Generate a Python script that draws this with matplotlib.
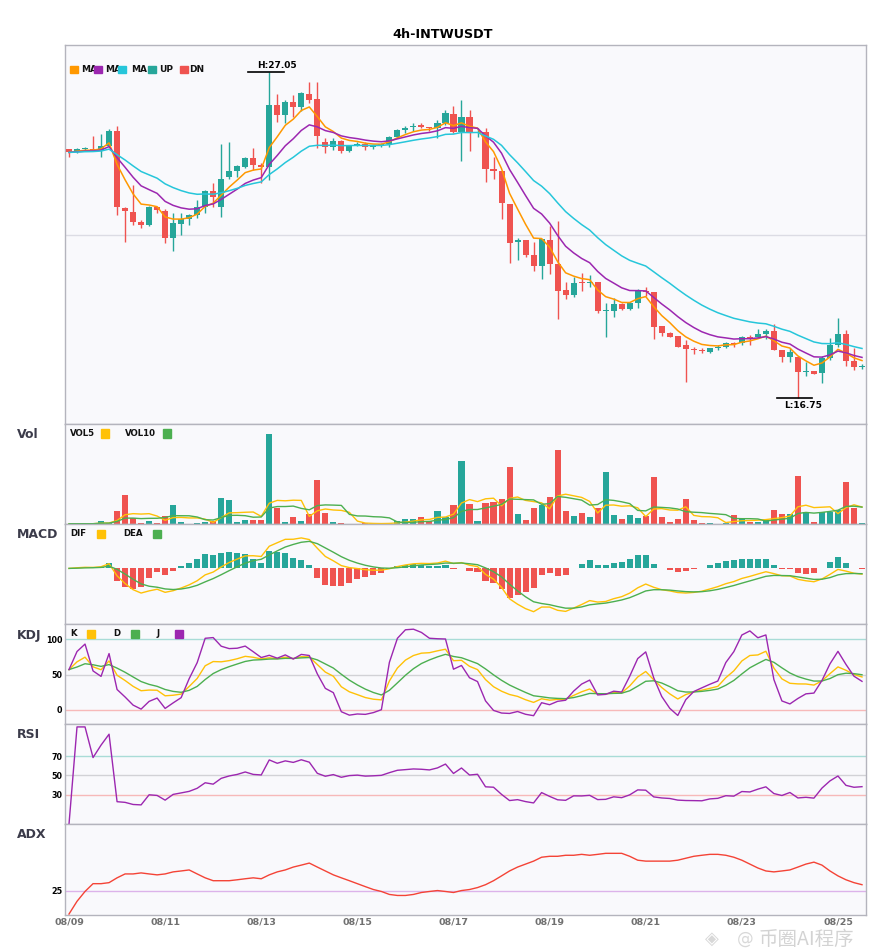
import numpy as np
import pandas as pd
import matplotlib
matplotlib.use("Agg")
import matplotlib.pyplot as plt
from matplotlib.patches import Rectangle

# ---------------- data (4h candles, 08/09 - 08/25) ----------------
opens = [24.60, 24.54, 24.60, 24.60, 24.58, 24.70, 25.18, 22.74, 22.62, 22.29,
         22.22, 22.77, 22.65, 21.81, 22.25, 22.39, 22.52, 22.79, 23.28, 22.79,
         23.71, 23.92, 24.05, 24.31, 24.10, 24.05, 26.00, 25.68, 26.08, 25.94,
         26.34, 26.18, 24.84, 24.66, 24.87, 24.54, 24.73, 24.78, 24.66, 24.71,
         24.75, 24.99, 25.21, 25.29, 25.35, 25.31, 25.26, 25.42, 25.71, 25.16,
         25.61, 25.10, 25.14, 23.96, 23.92, 22.87, 21.68, 21.73, 21.26, 20.92,
         21.73, 20.97, 20.15, 19.99, 20.41, 20.36, 20.41, 19.49, 19.50, 19.71,
         19.55, 19.75, 20.12, 20.08, 19.01, 18.80, 18.70, 18.42, 18.28, 18.26,
         18.20, 18.31, 18.36, 18.47, 18.49, 18.66, 18.66, 18.75, 18.86, 18.26,
         18.05, 18.05, 17.57, 17.59, 17.52, 17.99, 18.42, 18.76, 17.92, 17.71]
highs = [24.62, 24.64, 24.67, 25.02, 25.08, 25.23, 25.33, 22.76, 23.47, 22.37,
         22.81, 22.79, 22.70, 22.60, 22.60, 22.56, 23.00, 23.31, 23.52, 24.77,
         24.84, 24.10, 24.37, 24.63, 24.15, 27.05, 26.33, 26.16, 26.31, 26.40,
         26.73, 26.73, 24.94, 24.94, 24.89, 24.73, 24.84, 24.84, 24.73, 24.80,
         25.02, 25.24, 25.33, 25.42, 25.42, 25.31, 25.52, 25.84, 25.97, 26.16,
         25.84, 25.26, 25.26, 24.34, 23.92, 22.87, 21.79, 21.73, 21.66, 21.75,
         22.18, 22.33, 20.41, 20.55, 20.68, 20.63, 20.41, 19.73, 19.89, 19.73,
         19.78, 20.17, 20.24, 20.08, 19.01, 18.84, 18.70, 18.57, 18.36, 18.31,
         18.33, 18.42, 18.52, 18.52, 18.70, 18.73, 18.91, 18.91, 19.08, 18.26,
         18.31, 18.05, 17.89, 17.59, 18.07, 18.63, 19.26, 18.89, 18.31, 17.82]
lows = [24.34, 24.47, 24.57, 24.56, 24.37, 24.70, 22.52, 21.68, 22.21, 22.10,
        22.16, 22.58, 21.65, 21.37, 21.89, 22.21, 22.42, 22.60, 22.79, 22.47,
        23.65, 23.73, 24.00, 23.94, 23.52, 23.63, 25.47, 25.42, 25.61, 25.82,
        26.05, 24.63, 24.47, 24.58, 24.49, 24.52, 24.70, 24.57, 24.62, 24.68,
        24.68, 24.95, 25.10, 25.19, 25.27, 25.19, 24.97, 25.37, 25.10, 24.24,
        24.55, 24.98, 23.58, 23.65, 22.39, 21.00, 21.10, 21.19, 20.76, 20.50,
        20.66, 19.25, 19.88, 19.92, 20.13, 20.26, 19.42, 18.68, 19.31, 19.52,
        19.52, 19.59, 19.97, 18.60, 18.70, 18.66, 18.34, 17.26, 18.13, 18.15,
        18.15, 18.26, 18.31, 18.34, 18.42, 18.42, 18.66, 18.59, 18.26, 17.89,
        17.89, 16.75, 17.42, 17.50, 17.23, 17.94, 18.36, 17.75, 17.61, 17.65]
closes = [24.50, 24.61, 24.63, 24.57, 24.70, 25.18, 22.76, 22.66, 22.30, 22.22,
          22.78, 22.68, 21.81, 22.26, 22.39, 22.52, 22.78, 23.28, 23.10, 23.66,
          23.91, 24.07, 24.33, 24.10, 24.05, 26.00, 25.68, 26.08, 25.94, 26.37,
          26.16, 25.02, 24.66, 24.86, 24.54, 24.73, 24.78, 24.68, 24.71, 24.75,
          24.99, 25.21, 25.27, 25.33, 25.31, 25.27, 25.42, 25.73, 25.16, 25.61,
          25.10, 25.16, 23.96, 23.91, 22.91, 21.65, 21.72, 21.26, 20.92, 21.75,
          20.97, 20.13, 19.99, 20.38, 20.36, 20.41, 19.50, 19.52, 19.71, 19.55,
          19.75, 20.12, 20.08, 18.99, 18.78, 18.68, 18.36, 18.28, 18.26, 18.23,
          18.33, 18.36, 18.49, 18.44, 18.66, 18.62, 18.75, 18.86, 18.26, 18.05,
          18.19, 17.57, 17.60, 17.50, 17.99, 18.42, 18.76, 17.92, 17.71, 17.75]
volumes_k = [0.3, 0.3, 0.3, 0.3, 3, 1, 13, 29, 5.7, 1,
             3, 1, 8, 19, 2, 0.3, 1, 2, 2.7, 26,
             24, 2, 4, 4, 4, 90, 16, 2, 7, 3,
             10, 44, 11, 2, 1, 0.3, 0.3, 1, 0.3, 0.3,
             1, 3, 5, 5, 7, 3, 13, 7, 19, 63,
             20, 3, 21, 22, 25, 57, 10, 4, 16, 19,
             27, 74, 13, 8, 11, 7, 16, 52, 9, 5,
             9, 6, 8, 47, 7, 2, 5, 25, 4, 1,
             1, 0.3, 1, 9, 5, 2, 2, 4, 14, 10,
             10, 48, 12, 2, 12, 12, 14, 42, 16, 1]
adx_values = [0.0, 13.7, 24.3, 32.7, 32.7, 33.8, 39.0, 43.2, 43.2, 44.3,
              43.2, 42.2, 43.2, 45.4, 46.4, 47.5, 43.2, 39.0, 35.9, 35.9,
              35.9, 36.9, 38.0, 39.0, 38.0, 42.2, 45.4, 47.5, 50.6, 52.7,
              54.9, 50.6, 46.4, 42.2, 39.0, 35.9, 32.7, 29.5, 26.4, 24.3,
              21.1, 20.0, 20.0, 21.1, 23.2, 24.3, 25.3, 24.3, 23.2, 25.3,
              26.4, 28.5, 31.6, 35.9, 41.1, 46.4, 50.6, 53.8, 57.0, 61.2,
              62.2, 62.2, 63.3, 63.3, 64.3, 63.3, 64.3, 65.4, 65.4, 65.4,
              62.2, 58.0, 57.0, 57.0, 57.0, 57.0, 58.0, 60.1, 62.2, 63.3,
              64.3, 64.3, 63.3, 61.2, 58.0, 53.8, 49.6, 46.4, 45.4, 46.4,
              47.5, 50.6, 53.8, 55.9, 52.7, 46.4, 41.1, 36.9, 33.8, 31.6]
date_labels = ["08/09", "08/11", "08/13", "08/15", "08/17", "08/19", "08/21", "08/23", "08/25"]
date_label_idx = [0, 12, 24, 36, 48, 60, 72, 84, 96]
title = "4h-INTWUSDT"

# ---------------- indicators derived from the candles ----------------
n = len(closes)
x = np.arange(n)
o = np.array(opens); h = np.array(highs); l = np.array(lows); c = np.array(closes)
cs = pd.Series(c)
ema5 = cs.ewm(span=5, adjust=False).mean()
ema10 = cs.ewm(span=10, adjust=False).mean()
ema20 = cs.ewm(span=20, adjust=False).mean()
vs = pd.Series(volumes_k)
vol5 = vs.rolling(5, min_periods=1).mean()
vol10 = vs.rolling(10, min_periods=1).mean()
dif = cs.ewm(span=6, adjust=False).mean() - cs.ewm(span=13, adjust=False).mean()
dea = dif.ewm(span=5, adjust=False).mean()
macd_hist = 2 * (dif - dea)
h9 = pd.Series(h).rolling(9, min_periods=1).max()
l9 = pd.Series(l).rolling(9, min_periods=1).min()
rsv = ((cs - l9) / (h9 - l9) * 100).values
K, D = [], []
k = d = rsv[0]
for r in rsv:
    k = 2 / 3 * k + r / 3
    d = 2 / 3 * d + k / 3
    K.append(k); D.append(d)
K = np.array(K); D = np.array(D); J = 3 * K - 2 * D
diff = np.diff(c, prepend=c[0])
gain = np.clip(diff, 0, None); loss = np.clip(-diff, 0, None)
rsi = [0.0]
ag = al = 0.0
for t in range(1, n):
    if t <= 14:
        ag = gain[1:t + 1].mean(); al = loss[1:t + 1].mean()
    else:
        ag = (ag * 13 + gain[t]) / 14; al = (al * 13 + loss[t]) / 14
    rsi.append(100 * ag / (ag + al) if ag + al > 0 else 0.0)
rsi = np.array(rsi)

# ---------------- styling ----------------
UP = '#26a69a'; DN = '#ef5350'
C_MA5 = '#ff9800'; C_MA10 = '#9c27b0'; C_MA20 = '#26c6da'
YEL = '#ffc107'; GRN = '#4caf50'; PUR = '#9c27b0'; ADXC = '#f44336'
BG = '#f9f9fc'; SPINE = '#b4b4bd'
W, H = 885, 950
cols = [UP if cc >= oo else DN for oo, cc in zip(o, c)]

fig = plt.figure(figsize=(W / 100, H / 100), dpi=100)
fig.patch.set_facecolor('white')

def rect(x0, y0, x1, y1):
    return [x0 / W, 1 - y1 / H, (x1 - x0) / W, (y1 - y0) / H]

def fx(px):
    return px / W

def fy(py):
    return 1 - py / H

def mk_ax(y0, y1):
    ax = fig.add_axes(rect(65, y0, 866, y1))
    ax.set_facecolor(BG)
    for s in ax.spines.values():
        s.set_color(SPINE); s.set_linewidth(1.0)
    ax.set_xlim(-0.5, n - 0.5)
    ax.set_xticks([])
    ax.tick_params(axis='y', length=0, pad=2, labelsize=5.8)
    return ax

def square(px, py, color, size=8):
    fig.add_artist(Rectangle((fx(px), fy(py + size / 2)), size / W, size / H,
                             transform=fig.transFigure, color=color, zorder=10))

def ftext(px, py, s, **kw):
    kw.setdefault('fontsize', 6.2)
    kw.setdefault('fontweight', 'bold')
    kw.setdefault('va', 'center')
    kw.setdefault('color', '#111111')
    fig.text(fx(px), fy(py), s, **kw)

# ---------------- main price panel ----------------
ax = mk_ax(45, 424)
ylo, yhi = 15.919, 27.893
ax.set_ylim(ylo, yhi)
ax.set_yticks([])
ax.axhline((ylo + yhi) / 2, color='#dcdce4', lw=1.0, zorder=0)
ax.vlines(x, l, h, colors=cols, lw=1.0, zorder=2)
body_lo = np.minimum(o, c)
body_h = np.maximum(np.abs(c - o), 0.03)
ax.bar(x, body_h, bottom=body_lo, width=0.76, color=cols, zorder=3, linewidth=0)
ax.plot(x, ema5, color=C_MA5, lw=1.1, zorder=4)
ax.plot(x, ema10, color=C_MA10, lw=1.1, zorder=4)
ax.plot(x, ema20, color=C_MA20, lw=1.1, zorder=4)
ih = int(np.argmax(h)); il = int(np.argmin(l))
ax.plot([ih - 2.6, ih + 1.85], [h[ih], h[ih]], color='black', lw=1.2, zorder=5)
ax.text(ih - 1.55, h[ih] + 0.2, f"H:{h[ih]:.2f}", fontsize=6.5, fontweight='bold',
        va='center', ha='left', zorder=6)
ax.plot([il - 2.65, il + 1.7], [l[il], l[il]], color='black', lw=1.2, zorder=5)
ax.text(il - 1.75, l[il] - 0.26, f"L:{l[il]:.2f}", fontsize=6.5, fontweight='bold',
        va='center', ha='left', zorder=6)

# main legend
for px_, t_ in [(81, 'MA'), (105.5, 'MA'), (131.5, 'MA'), (159, 'UP'), (189, 'DN')]:
    ftext(px_, 69.5, t_, fontsize=6.5)
for px_, col in [(70, C_MA5), (94, C_MA10), (118, C_MA20), (148, UP), (180, DN)]:
    square(px_, 69.5, col, size=7.5)

# ---------------- volume ----------------
axv = mk_ax(424, 524)
axv.set_ylim(0, 100)
axv.set_yticks([])
axv.bar(x, volumes_k, width=0.76, color=cols, linewidth=0, zorder=2)
axv.plot(x, vol5, color=YEL, lw=1.0, zorder=3)
axv.plot(x, vol10, color=GRN, lw=1.0, zorder=3)

# ---------------- MACD ----------------
axm = mk_ax(524, 624)
axm.set_ylim(-1.39, 1.11)
axm.set_yticks([])
hcols = [UP if v >= 0 else DN for v in macd_hist]
axm.bar(x, macd_hist, width=0.76, color=hcols, linewidth=0, zorder=2)
axm.plot(x, dif, color=YEL, lw=1.0, zorder=3)
axm.plot(x, dea, color=GRN, lw=1.0, zorder=3)

# ---------------- KDJ ----------------
axk = mk_ax(624, 724)
axk.set_ylim(-19.8, 121.6)
axk.set_yticks([0, 50, 100])
axk.set_yticklabels(['0', '50', '100'], fontweight='bold')
axk.axhline(100, color='#a9dcd7', lw=1.0, zorder=1)
axk.axhline(50, color='#d2d2d6', lw=1.0, zorder=1)
axk.axhline(0, color='#f7b9b9', lw=1.0, zorder=1)
axk.plot(x, K, color=YEL, lw=1.0, zorder=3)
axk.plot(x, D, color=GRN, lw=1.0, zorder=3)
axk.plot(x, J, color=PUR, lw=1.0, zorder=3)

# ---------------- RSI ----------------
axr = mk_ax(724, 824)
axr.set_ylim(0, 103)
axr.set_yticks([30, 50, 70])
axr.set_yticklabels(['30', '50', '70'], fontweight='bold')
axr.axhline(70, color='#a9dcd7', lw=1.0, zorder=1)
axr.axhline(50, color='#d2d2d6', lw=1.0, zorder=1)
axr.axhline(30, color='#f7b9b9', lw=1.0, zorder=1)
axr.plot(x, rsi, color=PUR, lw=1.0, zorder=3)

# ---------------- ADX ----------------
axa = mk_ax(824, 915)
axa.set_ylim(-1.05, 97.0)
axa.set_yticks([25])
axa.set_yticklabels(['25'], fontweight='bold')
axa.axhline(25, color='#dcb3ea', lw=1.0, zorder=1)
axa.plot(x, adx_values, color=ADXC, lw=1.0, zorder=3)
axa.set_xticks(date_label_idx)
axa.set_xticklabels(date_labels, fontsize=6.8, fontweight='bold', color='#707070')
axa.tick_params(axis='x', length=0, pad=2)

# ---------------- panel titles and legends ----------------
fig.text(fx(443), fy(34), title, ha='center', va='center', fontsize=9.2, fontweight='bold')
for py_, t_ in [(434, 'Vol'), (535, 'MACD'), (635, 'KDJ'), (735, 'RSI'), (835, 'ADX')]:
    ftext(17, py_, t_, fontsize=9, color='#3b3b4a')

ftext(70, 433.5, 'VOL5'); square(101, 433.5, YEL)
ftext(125, 433.5, 'VOL10'); square(163, 433.5, GRN)
ftext(70, 533.5, 'DIF'); square(97, 533.5, YEL)
ftext(123, 533.5, 'DEA'); square(153, 533.5, GRN)
ftext(70, 633.7, 'K'); square(87, 633.7, YEL)
ftext(113, 633.7, 'D'); square(131, 633.7, GRN)
ftext(157, 633.7, 'J'); square(175, 633.7, PUR)

# watermark (kept just below the date labels)
fig.text(fx(712), fy(939), '◈', ha='center', va='center', fontsize=13,
         color='#cfcfcf', alpha=0.8, family=['DejaVu Sans'])
fig.text(fx(745), fy(939), '@', ha='center', va='center', fontsize=12,
         color='#cfcfcf', alpha=0.8, family=['DejaVu Sans'])
fig.text(fx(759), fy(939), '币圈AI程序', ha='left', va='center', fontsize=14,
         color='#c8c8c8', alpha=0.8, family=['Noto Sans CJK SC', 'DejaVu Sans'])

fig.savefig('out.png', dpi=100, facecolor='white')
